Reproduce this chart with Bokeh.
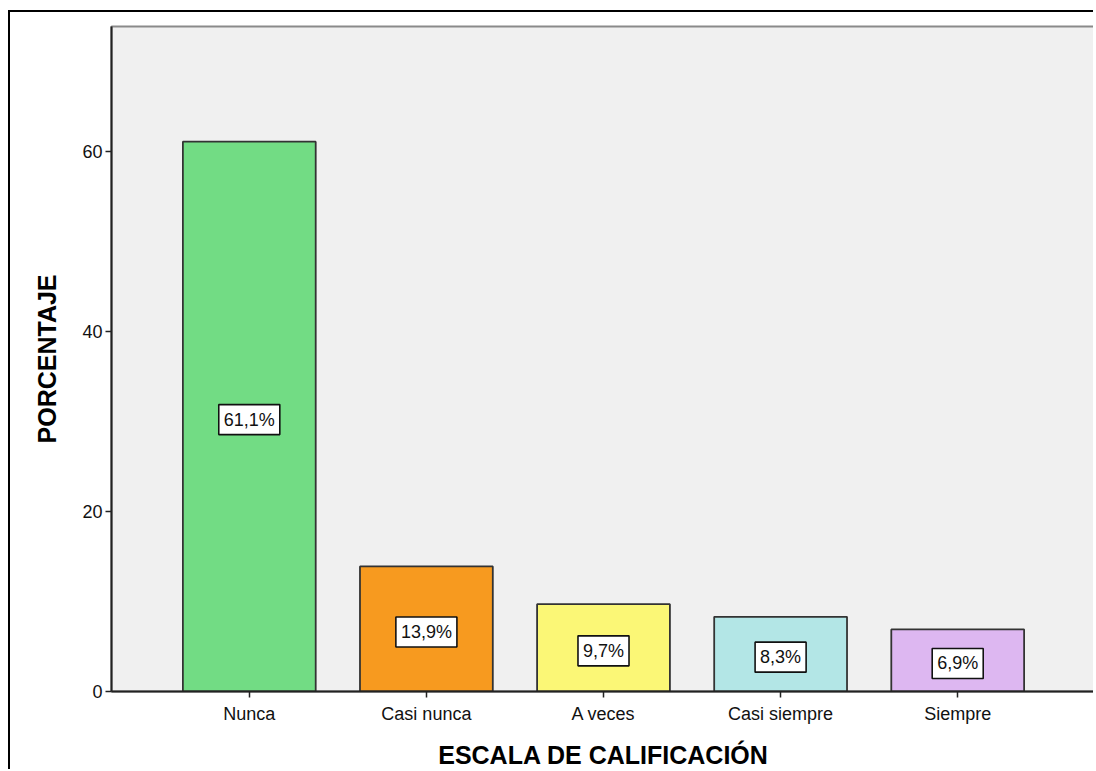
from bokeh.plotting import figure
from bokeh.models import ColumnDataSource, Range1d, FixedTicker
from bokeh.core.properties import value
from bokeh.embed import file_html
from bokeh.resources import INLINE

categories = ["Nunca", "Casi nunca", "A veces", "Casi siempre", "Siempre"]
percentages = [61.1, 13.9, 9.7, 8.3, 6.9]
labels = ["61,1%", "13,9%", "9,7%", "8,3%", "6,9%"]
colors = ["#72dc84", "#f79a1f", "#fbf776", "#b3e6e6", "#ddb7f1"]
y_ticks = [0, 20, 40, 60]

xs = list(range(1, len(categories) + 1))
src = ColumnDataSource(dict(x=xs, top=percentages, mid=[v / 2 for v in percentages],
                            label=labels, color=colors))

p = figure(width=1085, height=759, output_backend="svg", toolbar_location=None,
           x_range=Range1d(0.222, 5.778), y_range=Range1d(0, 73.9),
           background_fill_color="#f0f0f0", border_fill_color="white",
           min_border_left=101, min_border_top=14, min_border_right=0, min_border_bottom=80)
p.styles = {"border-left": "2px solid black", "border-top": "2px solid black",
            "margin-left": "8px", "margin-top": "10px"}

p.vbar(x="x", top="top", width=0.75, bottom=0, source=src, fill_color="color",
       line_color="#333333", line_width=1.8)

p.text(x="x", y="mid", text="label", source=src, text_align="center",
       text_baseline="middle", y_offset=3, text_font=value("Liberation Sans"),
       text_font_size="18px", text_color="#111111",
       background_fill_color="white", border_line_color="#111111",
       border_line_width=1.6, padding=5)

p.xgrid.visible = False
p.ygrid.visible = False
p.outline_line_color = "#8a8a8a"
p.outline_line_width = 2

p.yaxis.ticker = FixedTicker(ticks=y_ticks)
p.xaxis.ticker = FixedTicker(ticks=xs)
p.xaxis.major_label_overrides = {x: c for x, c in zip(xs, categories)}

for ax in (p.xaxis[0], p.yaxis[0]):
    ax.axis_line_color = "#222222"
    ax.axis_line_width = 2
    ax.major_tick_line_color = "#222222"
    ax.major_tick_line_width = 1.5
    ax.major_tick_in = 0
    ax.major_tick_out = 6
    ax.minor_tick_line_color = None
    ax.major_label_text_font = "Liberation Sans"
    ax.major_label_text_font_size = "18px"
    ax.major_label_text_color = "#111111"
    ax.axis_label_text_font = "Liberation Sans"
    ax.axis_label_text_font_size = "25px"
    ax.axis_label_text_font_style = "bold"
    ax.axis_label_text_color = "black"

p.xaxis.axis_label = "ESCALA DE CALIFICACIÓN"
p.yaxis.axis_label = "PORCENTAJE"
p.xaxis.major_label_standoff = 6
p.xaxis.axis_label_standoff = 14
p.yaxis.major_label_standoff = 3
p.yaxis.axis_label_standoff = 18

open("out.html", "w").write(file_html(p, INLINE))
